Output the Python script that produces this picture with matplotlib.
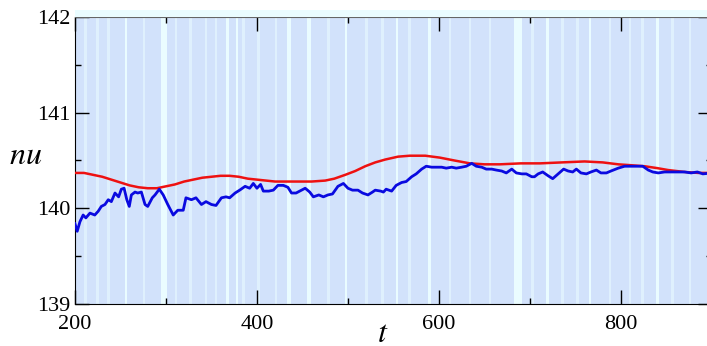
import matplotlib
matplotlib.use("Agg")
import matplotlib.pyplot as plt
from matplotlib.patches import Rectangle
from matplotlib.ticker import MultipleLocator

plt.rcParams['font.family'] = ['Liberation Serif', 'DejaVu Serif']
plt.rcParams['mathtext.fontset'] = 'stix'

# running mean of nu (blue)
t_mean = [200, 202.5, 205.5, 209, 212, 216.5, 221.8, 225.6, 229, 233, 236.6, 240,
          244, 248, 251, 254, 257, 259.7, 262, 266, 269, 273, 277, 280, 285, 288,
          292.7, 297, 302, 308, 313, 319, 322, 328, 333, 339, 344, 350, 355, 361,
          366, 370, 376, 381, 387, 392, 396, 400, 404, 407, 413, 418, 423, 429,
          434, 438, 443, 449, 453, 458, 462, 468, 473, 478, 483, 489, 495, 500,
          505, 511, 516, 522, 527, 530, 536, 539, 542, 548, 553, 559, 564, 570,
          575, 581, 586, 592, 597, 603, 608, 614, 619, 625, 630, 636, 641, 647,
          652, 658, 663, 669, 674, 680, 685, 691, 696, 702, 705, 709, 714, 720,
          725, 731, 737, 742, 747, 751, 756, 762, 767, 773, 778, 784, 789, 797,
          804, 811, 819, 824, 830, 835, 841, 848, 855, 862, 870, 877, 884, 890, 900]
nu_mean = [139.84, 139.76, 139.86, 139.93, 139.90, 139.95, 139.93, 139.97, 140.02, 140.04,
           140.09, 140.07, 140.16, 140.12, 140.20, 140.21, 140.09, 140.02, 140.14, 140.17,
           140.16, 140.17, 140.04, 140.02, 140.11, 140.14, 140.20, 140.14, 140.04, 139.93,
           139.98, 139.98, 140.11, 140.09, 140.11, 140.04, 140.07, 140.04, 140.03, 140.11,
           140.12, 140.11, 140.16, 140.19, 140.23, 140.21, 140.26, 140.21, 140.25, 140.18,
           140.18, 140.19, 140.24, 140.24, 140.22, 140.16, 140.16, 140.19, 140.21, 140.17,
           140.12, 140.14, 140.12, 140.14, 140.15, 140.23, 140.26, 140.21, 140.19, 140.19,
           140.16, 140.14, 140.17, 140.19, 140.18, 140.17, 140.20, 140.18, 140.24, 140.27,
           140.28, 140.33, 140.36, 140.41, 140.44, 140.43, 140.43, 140.43, 140.42, 140.43,
           140.42, 140.43, 140.44, 140.47, 140.44, 140.43, 140.41, 140.41, 140.40, 140.39,
           140.37, 140.41, 140.37, 140.36, 140.36, 140.33, 140.33, 140.36, 140.38, 140.34,
           140.31, 140.36, 140.41, 140.39, 140.38, 140.41, 140.37, 140.36, 140.38, 140.40,
           140.37, 140.37, 140.39, 140.42, 140.44, 140.44, 140.44, 140.44, 140.40, 140.38,
           140.37, 140.38, 140.38, 140.38, 140.38, 140.37, 140.38, 140.36, 140.37]

# smooth fit (red)
t_fit = [200, 210, 220, 230, 240, 250, 260, 270, 280, 290, 300, 310, 320, 330, 340,
         350, 360, 370, 380, 390, 400, 410, 420, 440, 460, 475, 485, 497, 508, 519,
         530, 541, 555, 568, 585, 601, 617, 634, 650, 667, 690, 711, 735, 760, 780,
         797, 812, 826, 840, 852, 870, 885, 900]
nu_fit = [140.37, 140.37, 140.35, 140.33, 140.30, 140.27, 140.24, 140.22, 140.21, 140.21,
          140.23, 140.25, 140.28, 140.30, 140.32, 140.33, 140.34, 140.34, 140.33, 140.31,
          140.30, 140.29, 140.28, 140.28, 140.28, 140.29, 140.31, 140.35, 140.39, 140.44,
          140.48, 140.51, 140.54, 140.55, 140.55, 140.53, 140.50, 140.47, 140.46, 140.46,
          140.47, 140.47, 140.48, 140.49, 140.48, 140.46, 140.45, 140.44, 140.42, 140.40,
          140.38, 140.37, 140.37]

# pale gaps in the raw signal (centre t, width in t)
gap_t = [256, 298, 368, 378, 435, 457, 498, 554, 590, 687, 719, 766, 840]
gap_w = [3, 7, 3, 3, 4, 4, 3, 3, 3, 9, 3, 3, 3]
# fainter streaks in the raw signal
streak_t = [212, 225, 237, 276, 311, 327, 344, 355, 385, 402, 421, 479, 520, 538,
            568, 612, 634, 656, 703, 736, 752, 788, 810, 824, 857, 876]

fig = plt.figure(figsize=(7.07, 3.46), dpi=100)
ax = fig.add_axes([0.106, 0.1214, 0.901, 0.8295])

ax.set_facecolor('#d2e2fb')
for c in streak_t:
    ax.axvspan(c - 1.5, c + 1.5, color='#eafcff', alpha=0.55, lw=0, zorder=1)
for c, w in zip(gap_t, gap_w):
    ax.axvspan(c - w / 2, c + w / 2, color='#eafcff', lw=0, zorder=1)

# pale strip above the frame
fig.patches.append(Rectangle((0.106, 0.951), 0.9, 0.02, transform=fig.transFigure,
                             facecolor='#eafcff', edgecolor='none'))

ax.plot(t_fit, nu_fit, color='#ee1111', lw=1.8, zorder=3)
ax.plot(t_mean, nu_mean, color='#0a0ae0', lw=2.0, zorder=4)

ax.set_xlim(200, 900)
ax.set_ylim(139, 142)
ax.xaxis.set_major_locator(MultipleLocator(200))
ax.xaxis.set_minor_locator(MultipleLocator(100))
ax.yaxis.set_major_locator(MultipleLocator(1))
ax.yaxis.set_minor_locator(MultipleLocator(0.5))
ax.tick_params(which='both', direction='in', top=True, right=True, labelsize=16)
ax.tick_params(axis='x', pad=8)
ax.tick_params(axis='y', pad=3)
ax.tick_params(which='major', length=10, width=1)
ax.tick_params(which='minor', length=4, width=1)
ax.spines['top'].set_color('#666666')

ax.set_xlabel(r'$t$', fontsize=23)
ax.xaxis.set_label_coords(0.483, -0.056)
ax.set_ylabel(r'$nu$', fontsize=23, rotation=0)
ax.yaxis.set_label_coords(-0.077, 0.465)

fig.savefig('out.png', dpi=100)
